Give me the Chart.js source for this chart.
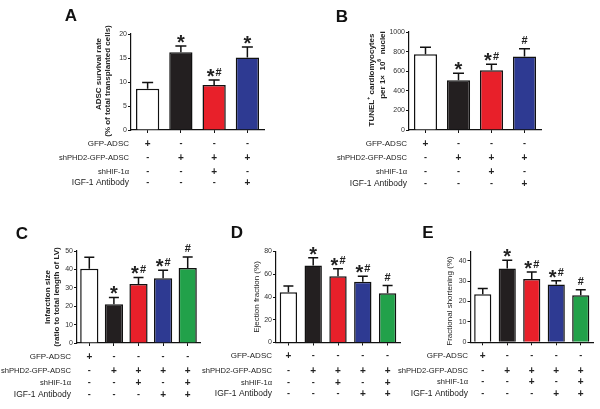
<!DOCTYPE html>
<html>
<head>
<meta charset="utf-8">
<script src="https://cdn.jsdelivr.net/npm/chart.js@4.4.1/dist/chart.umd.min.js"></script>
<style>
    html, body { margin: 0; padding: 0; background: #fff; }
    #wrap { position: relative; width: 600px; height: 409px; overflow: hidden; }
    #wrap canvas { position: absolute; left: 0; top: 0; }
</style>
</head>
<body>
<div id="wrap">
    <canvas id="chartA" width="600" height="409"></canvas>
    <canvas id="chartB" width="600" height="409"></canvas>
    <canvas id="chartC" width="600" height="409"></canvas>
    <canvas id="chartD" width="600" height="409"></canvas>
    <canvas id="chartE" width="600" height="409"></canvas>
</div>
<script>
// ---- Data ----
const groupsAB = ['GFP-ADSC', 'shPHD2-GFP-ADSC', 'shPHD2 + shHIF-1α', 'shPHD2 + IGF-1 Ab'];
const groupsCDE = ['GFP-ADSC', 'shPHD2-GFP-ADSC', 'shPHD2 + shHIF-1α', 'shPHD2 + IGF-1 Ab', 'shPHD2 + shHIF-1α + IGF-1 Ab'];

const rowLabels = ['GFP-ADSC', 'shPHD2-GFP-ADSC', 'shHIF-1α', 'IGF-1 Antibody'];
const signsAB = [
    ['+', '-', '-', '-'],
    ['-', '+', '+', '+'],
    ['-', '-', '+', '-'],
    ['-', '-', '-', '+']
];
const signsCDE = [
    ['+', '-', '-', '-', '-'],
    ['-', '+', '+', '+', '+'],
    ['-', '-', '+', '-', '+'],
    ['-', '-', '-', '+', '+']
];

// A: ADSC survival rate
const survivalMean = [8.6, 16.2, 9.4, 15.1];
const survivalSem = [1.3, 1.3, 1.0, 2.2];
const survivalMarks = ['', '*', '*#', '*'];
const survivalTicks = [0, 5, 10, 15, 20];

// B: TUNEL+ cardiomyocytes
const tunelMean = [773, 508, 610, 750];
const tunelSem = [72, 70, 60, 80];
const tunelMarks = ['', '*', '*#', '#'];
const tunelTicks = [0, 200, 400, 600, 800, 1000];

// C: Infarction size
const infarctMean = [40.4, 21.0, 32.0, 35.2, 40.8];
const infarctSem = [6.2, 3.7, 3.6, 4.4, 6.0];
const infarctMarks = ['', '*', '*#', '*#', '#'];
const infarctTicks = [0, 10, 20, 30, 40, 50];

// D: Ejection fraction
const efMean = [44.2, 67.8, 58.3, 53.4, 43.3];
const efSem = [5.5, 6.7, 6.5, 4.8, 6.8];
const efMarks = ['', '*', '*#', '*#', '#'];
const efTicks = [0, 20, 40, 60, 80];

// E: Fractional shortening
const fsMean = [23.6, 36.2, 31.0, 28.3, 23.0];
const fsSem = [2.8, 4.0, 3.4, 1.9, 2.8];
const fsMarks = ['', '*', '*#', '*#', '#'];
const fsTicks = [0, 10, 20, 30, 40];

// ---- Styles ----
const FONT = '"Liberation Sans", Arial, Helvetica, sans-serif';
const TEXT = '#222';
const barColors = ['#ffffff', '#231f20', '#e8202a', '#2e3a92', '#22a14a'];
const rowFontSizes = [8, 7.6, 7.5, 8.5];
const STAR = 20;
const HASH = 11;

function drawRich(ctx, segs, x, y, size, weight) {
    // measure then draw centered segments, superscripts raised
    let total = 0;
    const parts = segs.map(s => {
        const sz = s.sup ? size * 0.65 : size;
        ctx.font = `${weight} ${sz}px ${FONT}`;
        const w = ctx.measureText(s.t).width;
        total += w;
        return { t: s.t, sz, w, dy: s.sup ? -size * 0.38 : 0 };
    });
    let cx = x - total / 2;
    ctx.textAlign = 'left';
    ctx.textBaseline = 'middle';
    parts.forEach(p => {
        ctx.font = `${weight} ${p.sz}px ${FONT}`;
        ctx.fillText(p.t, cx, y + p.dy);
        cx += p.w;
    });
}

// Build one panel chart
function makePanel(cfg) {
    const n = cfg.labels.length;
    const yW = 24;
    const xH = 5;

    const decor = {
        id: 'decor' + cfg.letter,
        afterDatasetsDraw(chart) {
            const ctx = chart.ctx;
            const ys = chart.scales.y;
            const meta = chart.getDatasetMeta(0);
            ctx.save();
            ctx.strokeStyle = '#111';
            ctx.fillStyle = TEXT;
            ctx.lineWidth = 1.5;
            meta.data.forEach((bar, i) => {
                const top = ys.getPixelForValue(cfg.mean[i] + cfg.sem[i]);
                ctx.beginPath();
                ctx.moveTo(bar.x, bar.y);
                ctx.lineTo(bar.x, top);
                ctx.moveTo(bar.x - cfg.cap, top);
                ctx.lineTo(bar.x + cfg.cap, top);
                ctx.stroke();

                // significance marks
                const mark = cfg.marks[i];
                const cy = top - 8.5;
                ctx.textAlign = 'center';
                ctx.textBaseline = 'alphabetic';
                if (mark === '*') {
                    ctx.font = `bold ${STAR}px ${FONT}`;
                    ctx.fillText('*', bar.x, cy + STAR * 0.57);
                } else if (mark === '#') {
                    ctx.font = `bold ${HASH}px ${FONT}`;
                    ctx.fillText('#', bar.x, cy + HASH * 0.36);
                } else if (mark === '*#') {
                    ctx.font = `bold ${STAR}px ${FONT}`;
                    ctx.fillText('*', bar.x - 3.5, cy + STAR * 0.57);
                    ctx.font = `bold ${HASH}px ${FONT}`;
                    ctx.fillText('#', bar.x + 4.5, cy + HASH * 0.36);
                }
            });
            ctx.restore();
        },
        afterDraw(chart) {
            const ctx = chart.ctx;
            const meta = chart.getDatasetMeta(0);
            ctx.save();
            ctx.fillStyle = '#111';

            // panel letter
            ctx.font = `bold 17px ${FONT}`;
            ctx.textAlign = 'center';
            ctx.textBaseline = 'middle';
            ctx.fillText(cfg.letter, cfg.letterX, cfg.letterY);

            // y axis title
            ctx.fillStyle = TEXT;
            cfg.title.forEach(line => {
                ctx.save();
                ctx.translate(line.x, line.cy);
                ctx.rotate(-Math.PI / 2);
                drawRich(ctx, line.segs, 0, 0, cfg.titleSize, cfg.titleWeight);
                ctx.restore();
            });

            // treatment table
            cfg.signs.forEach((row, r) => {
                const y = cfg.rowY[r];
                ctx.font = `${rowFontSizes[r]}px ${FONT}`;
                ctx.textAlign = 'right';
                ctx.textBaseline = 'middle';
                ctx.fillText(rowLabels[r], cfg.labelRight, y);
                ctx.textAlign = 'center';
                row.forEach((s, j) => {
                    ctx.font = s === '+' ? `bold 10px ${FONT}` : `bold 9px ${FONT}`;
                    ctx.fillText(s, meta.data[j].x, y);
                });
            });
            ctx.restore();
        }
    };

    return new Chart(document.getElementById(cfg.canvas), {
        type: 'bar',
        data: {
            labels: cfg.labels,
            datasets: [{
                data: cfg.mean,
                backgroundColor: barColors.slice(0, n),
                borderColor: '#111',
                borderWidth: 1.5,
                borderSkipped: 'bottom',
                barPercentage: cfg.barPct,
                categoryPercentage: 1
            }]
        },
        options: {
            responsive: false,
            animation: false,
            events: [],
            layout: {
                padding: {
                    left: cfg.left - yW,
                    right: 600 - cfg.right,
                    top: cfg.top,
                    bottom: 409 - cfg.bottom - xH
                }
            },
            plugins: {
                legend: { display: false },
                tooltip: { enabled: false }
            },
            scales: {
                x: {
                    afterFit(scale) { scale.height = xH; },
                    ticks: { display: false },
                    grid: {
                        offset: false,
                        drawOnChartArea: false,
                        drawTicks: true,
                        tickLength: 3,
                        color: '#111',
                        lineWidth: 1
                    },
                    border: { display: true, color: '#111', width: 1.2 }
                },
                y: {
                    min: 0,
                    max: cfg.max,
                    afterFit(scale) { scale.width = yW; },
                    afterBuildTicks(scale) {
                        scale.ticks = cfg.ticks.map(v => ({ value: v }));
                    },
                    ticks: {
                        font: { family: FONT, size: 7 },
                        color: '#333',
                        padding: 1,
                        callback: v => String(v)
                    },
                    grid: {
                        drawOnChartArea: false,
                        drawTicks: true,
                        tickLength: 3,
                        color: '#111',
                        lineWidth: 1
                    },
                    border: { display: true, color: '#111', width: 1.2 }
                }
            }
        },
        plugins: [decor]
    });
}

makePanel({
    canvas: 'chartA', letter: 'A', letterX: 71, letterY: 16,
    labels: groupsAB, mean: survivalMean, sem: survivalSem, marks: survivalMarks,
    ticks: survivalTicks, max: 20, signs: signsAB,
    left: 131, right: 264, top: 34, bottom: 130, barPct: 0.7, cap: 5.5,
    labelRight: 129, rowY: [144, 158, 172, 183],
    titleSize: 8, titleWeight: 'bold',
    title: [
        { segs: [{ t: 'ADSC survival rate' }], x: 99, cy: 74 },
        { segs: [{ t: '(% of total transplanted cells)' }], x: 108, cy: 81 }
    ]
});

makePanel({
    canvas: 'chartB', letter: 'B', letterX: 342, letterY: 17,
    labels: groupsAB, mean: tunelMean, sem: tunelSem, marks: tunelMarks,
    ticks: tunelTicks, max: 1000, signs: signsAB,
    left: 409, right: 541, top: 32, bottom: 130, barPct: 0.7, cap: 5.5,
    labelRight: 407, rowY: [144, 158, 172, 184],
    titleSize: 8, titleWeight: 'bold',
    title: [
        { segs: [{ t: 'TUNEL' }, { t: '+', sup: true }, { t: ' cardiomyocytes' }], x: 372, cy: 80 },
        { segs: [{ t: 'per 1×  10' }, { t: '6', sup: true }, { t: '  nuclei' }], x: 383, cy: 65 }
    ]
});

makePanel({
    canvas: 'chartC', letter: 'C', letterX: 22, letterY: 234,
    labels: groupsCDE, mean: infarctMean, sem: infarctSem, marks: infarctMarks,
    ticks: infarctTicks, max: 50, signs: signsCDE,
    left: 77, right: 200, top: 251, bottom: 343, barPct: 0.74, cap: 5,
    labelRight: 71, rowY: [357, 371, 383, 395],
    titleSize: 8, titleWeight: 'bold',
    title: [
        { segs: [{ t: 'Infarction size' }], x: 48, cy: 297 },
        { segs: [{ t: '(ratio to total length of LV)' }], x: 57, cy: 297 }
    ]
});

makePanel({
    canvas: 'chartD', letter: 'D', letterX: 237, letterY: 233,
    labels: groupsCDE, mean: efMean, sem: efSem, marks: efMarks,
    ticks: efTicks, max: 80, signs: signsCDE,
    left: 276, right: 400, top: 251.5, bottom: 342.5, barPct: 0.7, cap: 5,
    labelRight: 272, rowY: [356, 371, 383, 394],
    titleSize: 8, titleWeight: 'normal',
    title: [
        { segs: [{ t: 'Ejection fraction (%)' }], x: 257, cy: 297 }
    ]
});

makePanel({
    canvas: 'chartE', letter: 'E', letterX: 428, letterY: 233,
    labels: groupsCDE, mean: fsMean, sem: fsSem, marks: fsMarks,
    ticks: fsTicks, max: 44.4, signs: signsCDE,
    left: 470.5, right: 593, top: 251.7, bottom: 342.3, barPct: 0.7, cap: 5,
    labelRight: 468, rowY: [356, 371, 382, 394],
    titleSize: 8, titleWeight: 'normal',
    title: [
        { segs: [{ t: 'Fractional shortening (%)' }], x: 450, cy: 301 }
    ]
});
</script>
</body>
</html>
